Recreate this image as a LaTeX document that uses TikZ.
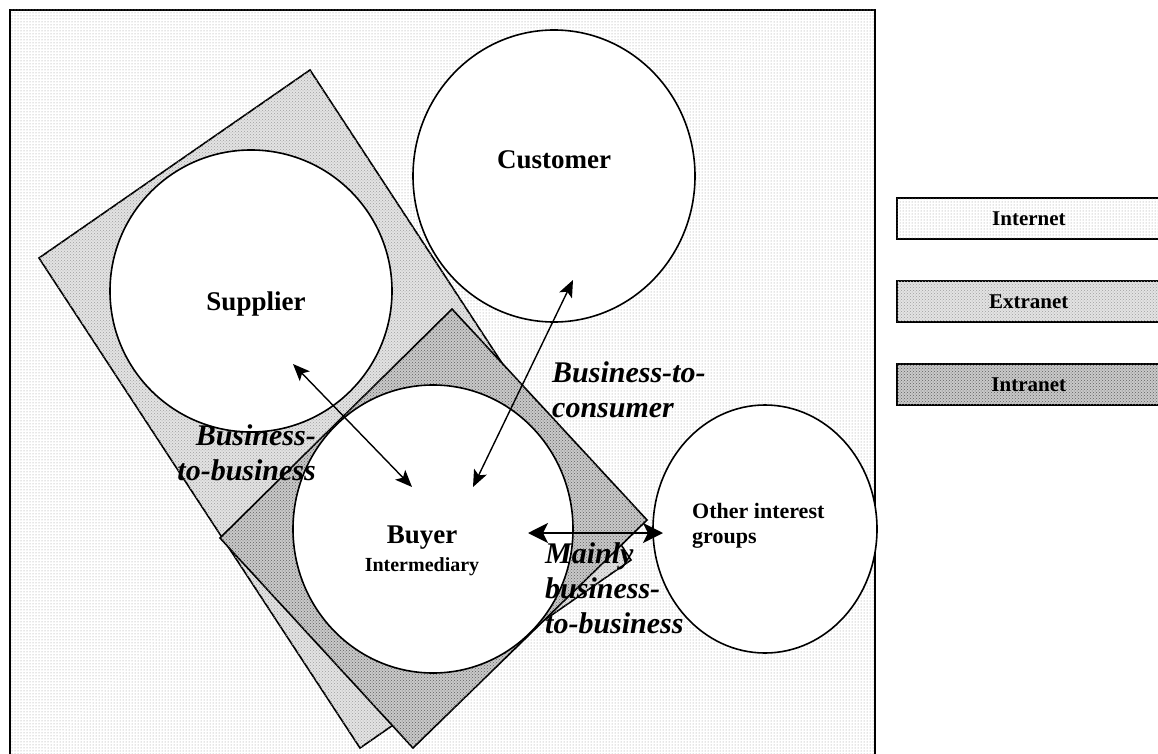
\documentclass[tikz,border=0pt]{standalone}
\usepackage{fontspec}
\setmainfont{Liberation Serif}
\usetikzlibrary{arrows.meta,patterns,shapes.geometric}

\begin{document}
\begin{tikzpicture}[x=1pt,y=-1pt]
    \tikzstyle{internet}=[draw=black,line width=1.8pt,fill=white,postaction={pattern=dots,pattern color=gray!85}]
    \tikzstyle{extranet}=[draw=black,line width=1.6pt,fill=gray!22,postaction={pattern=crosshatch dots,pattern color=gray!75}]
    \tikzstyle{intranet}=[draw=black,line width=1.6pt,fill=gray!42,postaction={pattern=crosshatch dots,pattern color=gray!75!black}]
    \tikzstyle{party}=[ellipse,draw=black,line width=1.6pt,fill=white,inner sep=0pt]
    \tikzstyle{partyname}=[inner sep=0pt,font=\fontsize{27}{30}\selectfont\bfseries]
    \tikzstyle{linktag}=[inner sep=0pt,font=\fontsize{30}{35}\selectfont\bfseries\itshape]
    \tikzstyle{keybox}=[minimum width=264pt,minimum height=41pt,anchor=north west,font=\fontsize{21}{24}\selectfont\bfseries]
    \tikzstyle{link}=[line width=1.4pt,{Stealth[length=17pt,width=14pt,inset=4pt]}-{Stealth[length=17pt,width=14pt,inset=4pt]}]
    \tikzstyle{biglink}=[line width=2pt,{Stealth[length=20pt,width=20pt,inset=5pt]}-{Stealth[length=20pt,width=20pt,inset=5pt]}]
    \useasboundingbox (0,0) rectangle (1158,754);

    % the three network areas
    \draw [internet] (10,10) rectangle (875,770);
    \draw [extranet] (310,70) -- (631,560) -- (360,748) -- (39,258) -- cycle;
    \draw [intranet] (452,309) -- (647,520) -- (413,748) -- (220,538) -- cycle;

    % parties
    \node (supplier)[party,minimum width=282pt,minimum height=282pt] at (251,291) {};
    \node (customer)[party,minimum width=282pt,minimum height=292pt] at (554,176) {};
    \node (buyer)[party,minimum width=280pt,minimum height=288pt] at (433,529) {};
    \node (others)[party,minimum width=224pt,minimum height=248pt] at (765,529) {};

    \node (supplier-txt)[partyname,anchor=base] at (256,310) {Supplier};
    \node (customer-txt)[partyname,anchor=base] at (554,169) {Customer};
    \node (buyer-txt)[partyname,anchor=base] at (422,543) {Buyer};
    \node (buyer-sub)[inner sep=0pt,anchor=base,font=\fontsize{20}{23}\selectfont\bfseries] at (422,571) {Intermediary};
    \node (others-txt)[inner sep=0pt,anchor=north west,align=left,font=\fontsize{22}{25}\selectfont\bfseries] at (692,503) {Other interest\\groups};

    % relations
    \coordinate (sb-top) at (293,364);
    \coordinate (sb-bot) at (412,487);
    \coordinate (cb-top) at (573,280);
    \coordinate (cb-bot) at (473,487);
    \coordinate (bo-left) at (528,533);
    \coordinate (bo-right) at (663,533);
    \draw [link] (sb-top) -- (sb-bot);
    \draw [link] (cb-top) -- (cb-bot);
    \draw [biglink] (bo-left) -- (bo-right);

    \node (b2b)[linktag,anchor=north east,align=right] at (316,424) {Business-\\to-business};
    \node (b2c)[linktag,anchor=north west,align=left] at (552,361) {Business-to-\\consumer};
    \node (mb2b)[linktag,anchor=north west,align=left] at (545,542) {Mainly\\business-\\to-business};

    % legend
    \node (internet-key)[internet,keybox] at (896,197) {Internet};
    \node (extranet-key)[extranet,keybox] at (896,280) {Extranet};
    \node (intranet-key)[intranet,keybox] at (896,363) {Intranet};
\end{tikzpicture}
\end{document}
